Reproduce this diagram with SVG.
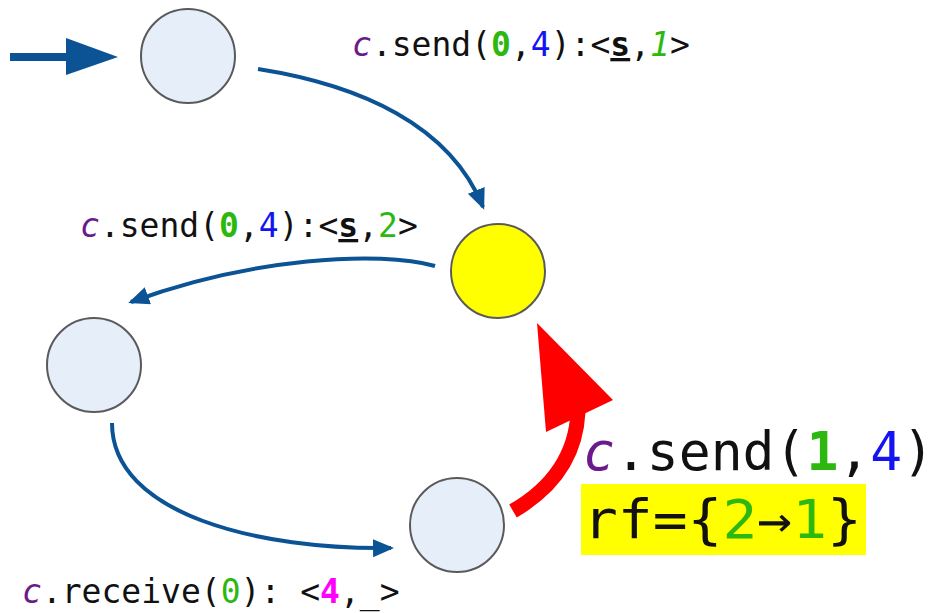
<svg xmlns="http://www.w3.org/2000/svg" width="933" height="613" viewBox="0 0 933 613">
<style>
.node{stroke:#5a5a5a;stroke-width:2}
.st{fill:#E6EEFA}
.cur{fill:#FFFF00}
.edge{fill:none;stroke:#0B5394;stroke-width:4}
.lbl{font-family:"DejaVu Sans Mono","Liberation Mono",monospace;font-size:33px;fill:#111}
.big{font-family:"DejaVu Sans Mono","Liberation Mono",monospace;font-size:53px;fill:#111}
.c{fill:#6B1A8C;font-style:italic}
.g{fill:#2DB80F}
.b{fill:#1414F0}
.m{fill:#FF00FF;font-weight:bold}
.bd{font-weight:bold}
.it{font-style:italic}
</style>
<defs>
<marker id="ah" markerUnits="userSpaceOnUse" markerWidth="22" markerHeight="20" refX="18" refY="9" orient="auto">
<path d="M0,0 L21,9 L0,18 z" fill="#0B5394"/>
</marker>
</defs>
<g id="start">
<rect x="10" y="53" width="60" height="8" fill="#0B5394"/>
<polygon points="66,38 118,57 66,75" fill="#0B5394"/>
</g>
<g id="n1"><circle class="node st" cx="188" cy="56" r="47"/></g>
<g id="n2"><circle class="node cur" cx="498" cy="271" r="47"/></g>
<g id="n3"><circle class="node st" cx="94" cy="365" r="47"/></g>
<g id="n4"><circle class="node st" cx="457" cy="525" r="47"/></g>
<g id="edges">
<path class="edge" d="M258,69 C360,85 450,125 483,207" marker-end="url(#ah)"/>
<path class="edge" d="M435,266 C380,250 250,258 131,302" marker-end="url(#ah)"/>
<path class="edge" d="M112,423 C112,515 260,550 391,548" marker-end="url(#ah)"/>
<g id="red">
<path d="M513,511 Q575,475 578,412" fill="none" stroke="#FF0000" stroke-width="15"/>
<polygon points="537,323 613,400 546,432" fill="#FF0000"/>
</g>
</g>
<g id="labels">
<text class="lbl" x="352" y="56"><tspan class="c">c</tspan>.send(<tspan class="g bd">0</tspan>,<tspan class="b">4</tspan>):&lt;<tspan class="bd" text-decoration="underline">s</tspan>,<tspan class="g it">1</tspan>&gt;</text>
<text class="lbl" x="80" y="237"><tspan class="c">c</tspan>.send(<tspan class="g bd">0</tspan>,<tspan class="b">4</tspan>):&lt;<tspan class="bd" text-decoration="underline">s</tspan>,<tspan class="g">2</tspan>&gt;</text>
<text class="lbl" x="22" y="603"><tspan class="c">c</tspan>.receive(<tspan class="g">0</tspan>): &lt;<tspan class="m">4</tspan>,_&gt;</text>
<text class="big" x="583" y="470"><tspan class="c">c</tspan>.send(<tspan class="g bd">1</tspan>,<tspan class="b">4</tspan>)</text>
<rect x="581" y="484" width="285" height="71" fill="#FFFF00"/>
<text class="big" x="583" y="538" font-size="57" textLength="279" lengthAdjust="spacingAndGlyphs">rf={<tspan class="g">2</tspan>→<tspan class="g">1</tspan>}</text>
</g>
</svg>
